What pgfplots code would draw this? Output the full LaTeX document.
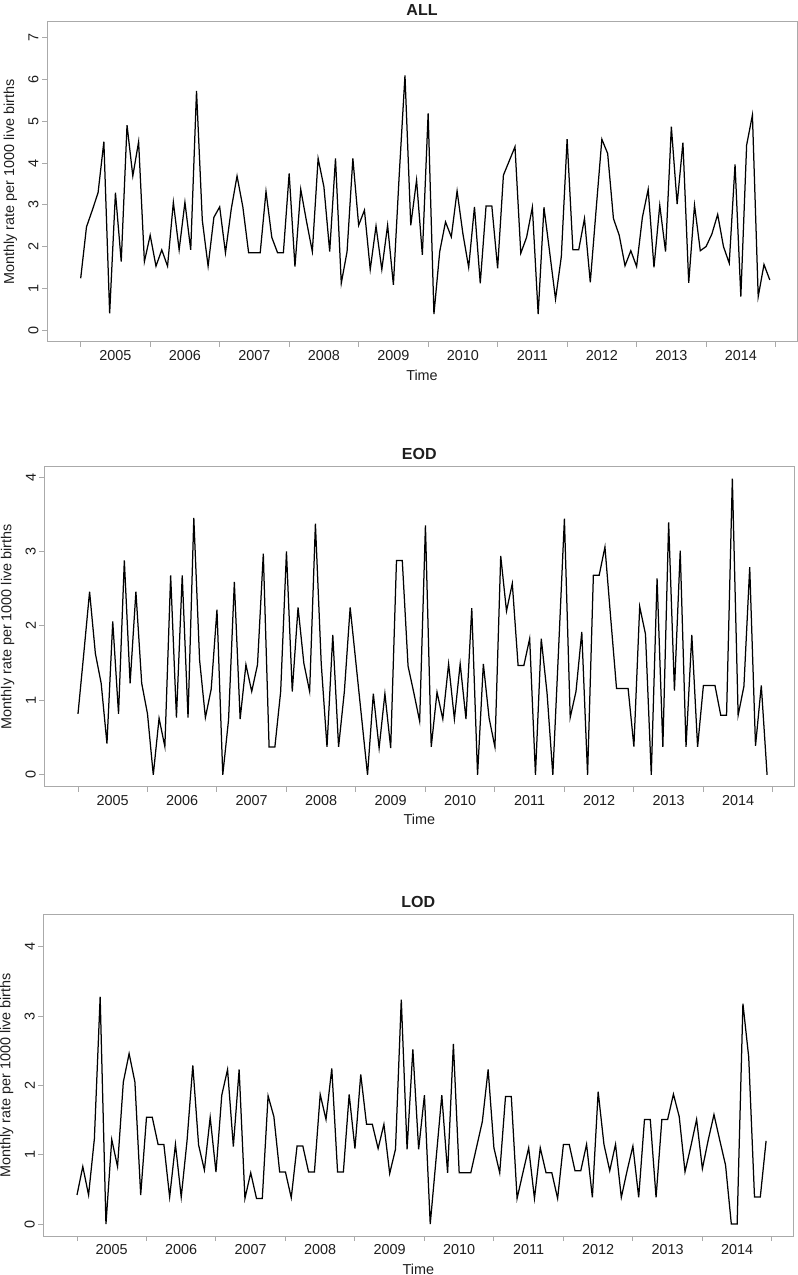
\documentclass[border=0pt]{standalone}
\usepackage{fontspec}
\setmainfont{Liberation Sans}
\usepackage{pgfplots}
\pgfplotsset{compat=1.18}
\usepackage{pgfplotstable}

\pgfplotstableread{
i y
0 1.24
1 2.47
2 2.87
3 3.29
4 4.51
5 0.40
6 3.29
7 1.64
8 4.91
9 3.69
10 4.51
11 1.64
12 2.27
13 1.53
14 1.92
15 1.53
16 3.06
17 1.92
18 3.06
19 1.92
20 5.73
21 2.63
22 1.53
23 2.70
24 2.95
25 1.85
26 2.90
27 3.69
28 2.95
29 1.85
30 1.85
31 1.85
32 3.32
33 2.22
34 1.85
35 1.85
36 3.75
37 1.52
38 3.37
39 2.60
40 1.88
41 4.11
42 3.43
43 1.88
44 4.11
45 1.12
46 1.88
47 4.11
48 2.51
49 2.87
50 1.45
51 2.49
52 1.45
53 2.51
54 1.08
55 3.70
56 6.10
57 2.51
58 3.59
59 1.80
60 5.19
61 0.38
62 1.88
63 2.59
64 2.23
65 3.33
66 2.31
67 1.50
68 2.95
69 1.12
70 2.97
71 2.97
72 1.48
73 3.71
74 4.05
75 4.39
76 1.84
77 2.22
78 2.94
79 0.38
80 2.94
81 1.85
82 0.74
83 1.76
84 4.57
85 1.92
86 1.92
87 2.67
88 1.14
89 2.87
90 4.57
91 4.23
92 2.67
93 2.27
94 1.54
95 1.90
96 1.52
97 2.70
98 3.37
99 1.50
100 2.99
101 1.88
102 4.87
103 3.02
104 4.49
105 1.13
106 2.99
107 1.90
108 2.00
109 2.30
110 2.77
111 2.00
112 1.60
113 3.97
114 0.80
115 4.43
116 5.15
117 0.80
118 1.57
119 1.20
}\dataALL

\pgfplotstableread{
i y
0 0.82
1 1.63
2 2.46
3 1.63
4 1.23
5 0.42
6 2.06
7 0.82
8 2.88
9 1.23
10 2.46
11 1.23
12 0.82
13 0
14 0.76
15 0.38
16 2.68
17 0.77
18 2.68
19 0.77
20 3.45
21 1.54
22 0.77
23 1.15
24 2.22
25 0
26 0.74
27 2.59
28 0.75
29 1.48
30 1.12
31 1.48
32 2.97
33 0.375
34 0.375
35 1.12
36 3.00
37 1.12
38 2.25
39 1.50
40 1.12
41 3.375
42 1.50
43 0.375
44 1.88
45 0.375
46 1.12
47 2.25
48 1.50
49 0.75
50 0
51 1.09
52 0.36
53 1.09
54 0.36
55 2.88
56 2.88
57 1.46
58 1.10
59 0.72
60 3.35
61 0.375
62 1.11
63 0.75
64 1.49
65 0.75
66 1.49
67 0.75
68 2.24
69 0
70 1.49
71 0.76
72 0.375
73 2.94
74 2.20
75 2.57
76 1.47
77 1.47
78 1.83
79 0
80 1.83
81 1.10
82 0
83 1.70
84 3.44
85 0.77
86 1.12
87 1.92
88 0
89 2.68
90 2.68
91 3.06
92 2.10
93 1.16
94 1.16
95 1.16
96 0.38
97 2.26
98 1.89
99 0
100 2.64
101 0.375
102 3.39
103 1.13
104 3.01
105 0.375
106 1.88
107 0.375
108 1.20
109 1.20
110 1.20
111 0.80
112 0.80
113 3.98
114 0.80
115 1.19
116 2.79
117 0.39
118 1.20
119 0
}\dataEOD

\pgfplotstableread{
i y
0 0.42
1 0.83
2 0.42
3 1.23
4 3.28
5 0
6 1.22
7 0.83
8 2.05
9 2.46
10 2.05
11 0.42
12 1.54
13 1.54
14 1.15
15 1.15
16 0.39
17 1.15
18 0.39
19 1.20
20 2.29
21 1.14
22 0.78
23 1.54
24 0.75
25 1.86
26 2.23
27 1.12
28 2.23
29 0.37
30 0.74
31 0.37
32 0.37
33 1.85
34 1.55
35 0.75
36 0.75
37 0.38
38 1.125
39 1.125
40 0.75
41 0.75
42 1.87
43 1.51
44 2.245
45 0.75
46 0.75
47 1.87
48 1.09
49 2.16
50 1.44
51 1.44
52 1.09
53 1.44
54 0.73
55 1.08
56 3.24
57 1.08
58 2.52
59 1.08
60 1.86
61 0
62 0.93
63 1.86
64 0.74
65 2.60
66 0.74
67 0.74
68 0.74
69 1.11
70 1.48
71 2.23
72 1.10
73 0.74
74 1.84
75 1.84
76 0.37
77 0.74
78 1.10
79 0.37
80 1.10
81 0.74
82 0.74
83 0.37
84 1.15
85 1.15
86 0.77
87 0.77
88 1.15
89 0.385
90 1.91
91 1.15
92 0.77
93 1.15
94 0.385
95 0.77
96 1.125
97 0.385
98 1.51
99 1.51
100 0.385
101 1.51
102 1.51
103 1.875
104 1.55
105 0.755
106 1.12
107 1.51
108 0.80
109 1.21
110 1.58
111 1.21
112 0.85
113 0
114 0
115 3.18
116 2.41
117 0.39
118 0.39
119 1.20
}\dataLOD

\definecolor{boxgray}{RGB}{170,170,170}
\definecolor{txt}{RGB}{30,30,30}

\pgfplotsset{
 myaxis/.style={
  scale only axis, anchor=south west,
  xmin=-5.82, xmax=123.7,
  xtick={0,12,...,120},
  x tick label as interval,
  xticklabels={2005,2006,2007,2008,2009,2010,2011,2012,2013,2014},
  xtick pos=left, ytick pos=left, tick align=outside,
  major tick length=5pt,
  axis line style={boxgray, line width=1pt},
  every tick/.style={boxgray, line width=1pt},
  tick label style={font=\fontsize{14.4}{16}\selectfont, text=txt},
  yticklabel style={rotate=90, anchor=south},
  /pgf/number format/assume math mode=true,
  xlabel={Time}, ylabel={Monthly rate per 1000 live births},
  xlabel style={at={(axis description cs:0.5,-0.103)}, anchor=center, font=\fontsize{14.4}{16}\selectfont, text=txt},
  ylabel style={at={(axis description cs:-0.0487,0.5)}, rotate=0, anchor=center, font=\fontsize{14.4}{16}\selectfont, text=txt},
  every axis title shift=0pt,
  title style={at={(axis description cs:0.5,1.039)}, anchor=center, font=\bfseries\fontsize{16}{18}\selectfont, text=txt},
 },
 myline/.style={black, line width=1.25pt, no marks, line join=miter},
}

\begin{document}
\begin{tikzpicture}
\useasboundingbox (0pt,0pt) rectangle (798pt,1275pt);
\begin{axis}[myaxis, at={(47pt,933pt)}, width=750pt, height=320pt,
  ymin=-0.287, ymax=7.38, ytick={0,1,...,7}, title={ALL}]
\addplot[myline] table[x=i, y=y] {\dataALL};
\end{axis}
\begin{axis}[myaxis, at={(44.3pt,488.3pt)}, width=750pt, height=320pt,
  ymin=-0.159, ymax=4.139, ytick={0,1,...,4}, title={EOD}]
\addplot[myline] table[x=i, y=y] {\dataEOD};
\end{axis}
\begin{axis}[myaxis, at={(43.3pt,39pt)}, width=750pt, height=321pt,
  ymin=-0.172, ymax=4.46, ytick={0,1,...,4}, title={LOD}]
\addplot[myline] table[x=i, y=y] {\dataLOD};
\end{axis}
\end{tikzpicture}
\end{document}
